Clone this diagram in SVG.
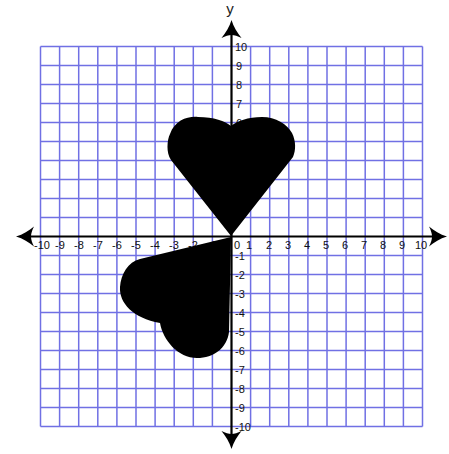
<svg xmlns="http://www.w3.org/2000/svg" width="449" height="454" viewBox="0 0 449 454">
<style>
.grid{stroke:#7070e4;stroke-width:1.5;fill:none}
.axis{stroke:#000;stroke-width:2.2;fill:none}
.lbl{font-family:"Liberation Sans",Arial,sans-serif;font-size:11px;fill:#111}
.xl{text-anchor:middle}
.heart{fill:#000}
</style>
<defs>
<path id="ah" d="M0,0 C2,7 6,13 10,18 C6,16 3,15 0,15 C-3,15 -6,16 -10,18 C-6,13 -2,7 0,0 Z" fill="#000"/>
</defs>
<rect width="449" height="454" fill="#fff"/>
<g id="grid">
<path class="grid" d="M40.5,46.5V426.5M59.6,46.5V426.5M78.7,46.5V426.5M97.8,46.5V426.5M116.9,46.5V426.5M136,46.5V426.5M155.1,46.5V426.5M174.2,46.5V426.5M193.3,46.5V426.5M212.4,46.5V426.5M250.6,46.5V426.5M269.7,46.5V426.5M288.8,46.5V426.5M307.9,46.5V426.5M327,46.5V426.5M346.1,46.5V426.5M365.2,46.5V426.5M384.3,46.5V426.5M403.4,46.5V426.5M422.5,46.5V426.5"/>
<path class="grid" d="M40.5,46.5H422.5M40.5,65.5H422.5M40.5,84.5H422.5M40.5,103.5H422.5M40.5,122.5H422.5M40.5,141.5H422.5M40.5,160.5H422.5M40.5,179.5H422.5M40.5,198.5H422.5M40.5,217.5H422.5M40.5,255.5H422.5M40.5,274.5H422.5M40.5,293.5H422.5M40.5,312.5H422.5M40.5,331.5H422.5M40.5,350.5H422.5M40.5,369.5H422.5M40.5,388.5H422.5M40.5,407.5H422.5M40.5,426.5H422.5"/>
</g>
<g id="x-labels" class="lbl xl">
<text x="42" y="249">-10</text><text x="60" y="249">-9</text><text x="79" y="249">-8</text><text x="98" y="249">-7</text><text x="117" y="249">-6</text><text x="136" y="249">-5</text><text x="155" y="249">-4</text><text x="174" y="249">-3</text><text x="193" y="249">-2</text><text x="212" y="249">-1</text>
<text x="237" y="249">0</text><text x="249" y="249">1</text><text x="269" y="249">2</text><text x="288" y="249">3</text><text x="307" y="249">4</text><text x="326" y="249">5</text><text x="345" y="249">6</text><text x="364" y="249">7</text><text x="383" y="249">8</text><text x="402" y="249">9</text><text x="421" y="249">10</text>
</g>
<g id="y-labels" class="lbl">
<text x="235" y="50.5">10</text><text x="236" y="69.5">9</text><text x="236" y="88.5">8</text><text x="236" y="107.5">7</text><text x="236" y="126.5">6</text><text x="236" y="145.5">5</text><text x="236" y="164.5">4</text><text x="236" y="183.5">3</text><text x="236" y="202.5">2</text><text x="236" y="221.5">1</text>
<text x="235" y="259.5">-1</text><text x="235" y="278.5">-2</text><text x="235" y="297.5">-3</text><text x="235" y="316.5">-4</text><text x="235" y="335.5">-5</text><text x="235" y="354.5">-6</text><text x="235" y="373.5">-7</text><text x="235" y="392.5">-8</text><text x="235" y="411.5">-9</text><text x="235" y="430.5">-10</text>
</g>
<g id="heart-top">
<path class="heart" d="M231,236 L171,160 C166,153 167,140 170,134 C175,120 188,116 198,117 C214,117 225,121 231,126 C237,121 248,117 262,117 C276,117 287,124 292,133 C296,141 296,150 293,157 Z"/>
</g>
<g id="heart-bottom">
<path class="heart" d="M231,237 L140,259 C128,262 121,274 120,287 C119,303 133,318 160,323 C163,340 178,358 197,358 C214,358 227,348 229,332 L231,237 Z"/>
</g>
<g id="axes">
<path class="axis" d="M22,236.5H442M231.5,26V444"/>
<use href="#ah" transform="translate(231.5,20)"/>
<use href="#ah" transform="translate(231.5,449) rotate(180)"/>
<use href="#ah" transform="translate(16,236.5) rotate(-90)"/>
<use href="#ah" transform="translate(447,236.5) rotate(90)"/>
<text x="230" y="14" font-family="Liberation Sans,Arial,sans-serif" font-size="15" text-anchor="middle" fill="#222">y</text>
</g>
</svg>
